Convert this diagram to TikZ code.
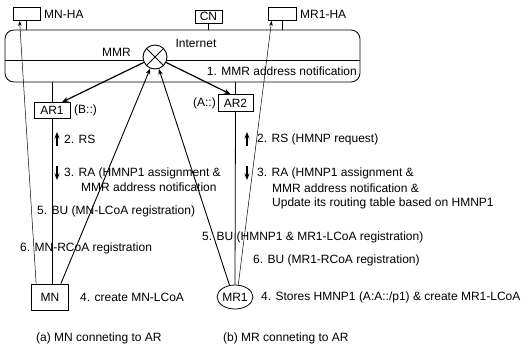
\documentclass[tikz,border=0pt]{standalone}
\usepackage{fontspec}
\setmainfont{Liberation Sans}
\usetikzlibrary{arrows.meta,calc,shapes.geometric}
\begin{document}
\begin{tikzpicture}[x=1pt,y=-1pt, font=\fontsize{12}{14}\selectfont,
 box/.style={draw, line width=0.8pt, inner sep=0pt},
 lbl/.style={inner sep=0pt, anchor=west},
 arr/.style={-{Stealth[length=6.5pt,width=5pt]}, line width=1.2pt},
 medarr/.style={-{Stealth[length=6pt,width=4.5pt]}, line width=0.9pt},
 thinarr/.style={-{Stealth[length=5pt,width=3.5pt]}, line width=0.5pt},
 conn/.style={line width=0.8pt}]
\useasboundingbox (0,0) rectangle (531,351);
% top boxes
\node[box, minimum width=27pt, minimum height=13pt] (mnha) at (26.5,14) {};
\node[lbl] (mnhat) at (44,14) {MN-HA};
\node[box, minimum width=27pt, minimum height=13pt] (cn) at (208.5,16.5) {CN};
\node[box, minimum width=28pt, minimum height=13pt] (mr1ha) at (282,14) {};
\node[lbl] (mr1hat) at (300,14) {MR1-HA};
% internet cloud
\node[draw, line width=0.8pt, rounded corners=9pt, minimum width=355pt, minimum height=52pt, inner sep=0pt] (net) at (182.5,56) {};
\coordinate (dl) at (5,60); \coordinate (dr) at (360,60);
\draw[conn] (dl) -- (dr);
\draw[conn] (mnha.south) -- (mnha.south |- net.north);
\draw[conn] (cn.south) -- (cn.south |- net.north);
\draw[conn] (mr1ha.south) -- (mr1ha.south |- net.north);
\node[lbl, anchor=center] (inet) at (196,43) {Internet};
\node[lbl, anchor=east] (mmrt) at (131,52) {MMR};
\node[draw, fill=white, circle, line width=0.9pt, minimum size=24pt, inner sep=0pt] (mmr) at (155,57) {};
\draw[line width=0.9pt] (mmr.north west) -- (mmr.south east) (mmr.north east) -- (mmr.south west);
\node[lbl, anchor=east] (n1) at (357,71) {1. MMR address notification};
% access routers
\node[box, minimum width=36pt, minimum height=16pt] (ar1) at (52,110.5) {AR1};
\node[lbl] (b) at (74,110.5) {(B::)};
\node[box, minimum width=35pt, minimum height=17pt] (ar2) at (235.5,103) {AR2};
\node[lbl, anchor=east] (a) at (216,103) {(A::)};
\draw[conn] (ar1.north) -- (ar1.north |- net.south);
\draw[conn] (ar2.north) -- (ar2.north |- net.south);
\draw[arr] (mmr) -- ($(ar1.north)+(10,0)$);
\draw[arr] (mmr) -- ($(ar2.north)+(-5,0)$);
% mobile nodes
\node[box, minimum width=37pt, minimum height=26pt] (mn) at (50,297) {MN};
\node[draw, ellipse, line width=0.8pt, minimum width=34pt, minimum height=24pt, inner sep=0pt] (mr1) at (235,297) {MR1};
\draw[conn] (ar1.south) -- (ar1.south |- mn.north);
\draw[thinarr] ($(mn.north west)+(5,0)$) -- ($(mnha.south west)+(7,0)$);
\draw[medarr] ($(mn.north east)+(-8,0)$) -- (mmr);
\draw[conn] (ar2.south) -- (mr1.north);
\draw[medarr] (mr1.115) -- (mmr);
\draw[thinarr] (mr1.75) -- ($(mr1ha.south west)+(4,0)$);
% up/down arrows
\coordinate (u1a) at (57,146); \coordinate (u1b) at (57,132);
\coordinate (d1a) at (57,166); \coordinate (d1b) at (57,180);
\coordinate (u2a) at (247,146); \coordinate (u2b) at (247,132);
\coordinate (d2a) at (247,166); \coordinate (d2b) at (247,180);
\draw[arr] (u1a) -- (u1b);
\draw[arr] (d1a) -- (d1b);
\draw[arr] (u2a) -- (u2b);
\draw[arr] (d2a) -- (d2b);
% left texts
\node[lbl] (t2l) at (64,139) {2. RS};
\node[lbl] (t3l) at (64,173) {3. RA (HMNP1 assignment \&};
\node[lbl] (t3l2) at (81,187) {MMR address notification};
\node[lbl] (t5l) at (37,211) {5. BU (MN-LCoA registration)};
\node[lbl] (t6l) at (20,248) {6. MN-RCoA registration};
\node[lbl] (t4l) at (80,297) {4. create MN-LCoA};
\node[lbl] (ca) at (36,338) {(a) MN conneting to AR};
% right texts
\node[lbl] (t2r) at (257,139) {2. RS (HMNP request)};
\node[lbl] (t3r) at (257,173) {3. RA (HMNP1 assignment \&};
\node[lbl] (t3r2) at (272,188) {MMR address notification \&};
\node[lbl] (t3r3) at (272,203) {Update its routing table based on HMNP1};
\node[lbl] (t5r) at (202,237) {5. BU (HMNP1 \& MR1-LCoA registration)};
\node[lbl] (t6r) at (253,260) {6. BU (MR1-RCoA registration)};
\node[lbl] (t4r) at (261,297) {4. Stores HMNP1 (A:A::/p1) \& create MR1-LCoA};
\node[lbl] (cb) at (223,338) {(b) MR conneting to AR};
\end{tikzpicture}
\end{document}
